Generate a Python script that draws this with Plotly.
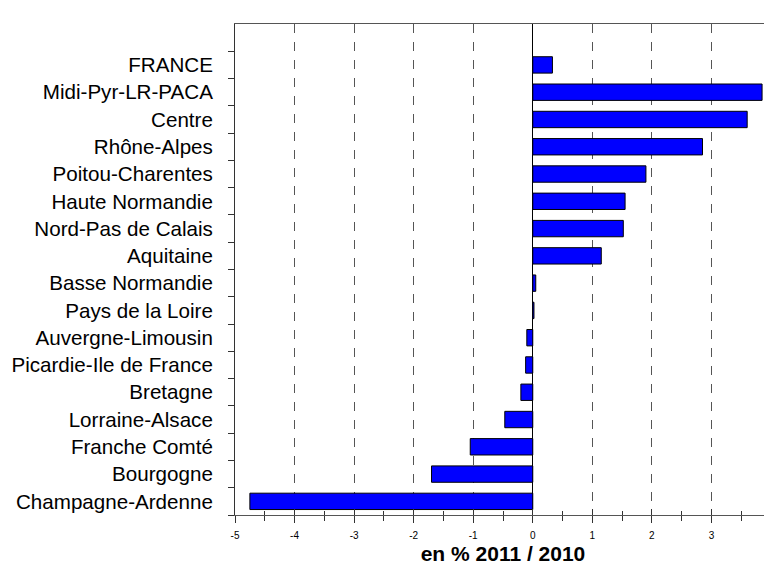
import plotly.graph_objects as go

regions = ["FRANCE", "Midi-Pyr-LR-PACA", "Centre", "Rhône-Alpes", "Poitou-Charentes",
           "Haute Normandie", "Nord-Pas de Calais", "Aquitaine", "Basse Normandie",
           "Pays de la Loire", "Auvergne-Limousin", "Picardie-Ile de France", "Bretagne",
           "Lorraine-Alsace", "Franche Comté", "Bourgogne", "Champagne-Ardenne"]
values = [0.33, 3.85, 3.6, 2.85, 1.9, 1.55, 1.52, 1.15, 0.05, 0.02,
          -0.1, -0.12, -0.2, -0.47, -1.05, -1.7, -4.75]
x_ticks = [-5, -4, -3, -2, -1, 0, 1, 2, 3, 4]
x_title = "en % 2011 / 2010"

cats = regions[::-1]
vals = values[::-1]

fig = go.Figure()
fig.add_trace(go.Bar(
    y=cats, x=vals, orientation="h", width=0.6,
    marker=dict(color="#0000FF", line=dict(color="#000000", width=1)),
    showlegend=False, hoverinfo="skip"))
fig.add_trace(go.Scatter(x=[0], y=[cats[0]], xaxis="x2", mode="markers",
                         marker=dict(opacity=0), showlegend=False, hoverinfo="skip"))

font = "Arial, Liberation Sans, sans-serif"
fig.update_layout(
    width=772, height=564,
    margin=dict(l=227, r=9, t=16, b=57, autoexpand=False),
    paper_bgcolor="white", plot_bgcolor="white",
    font=dict(family=font, color="black"),
    xaxis=dict(
        range=[-5, 4], tickvals=x_ticks, ticktext=[str(v) for v in x_ticks],
        tickfont=dict(size=10, family=font), ticks="outside", ticklen=7, tickwidth=1,
        tickcolor="#333", ticklabelstandoff=4, automargin=False,
        minor=dict(dtick=0.5, ticks="outside", ticklen=5, tickcolor="#333", showgrid=False),
        showgrid=True, gridcolor="#555", griddash="dash", gridwidth=1,
        zeroline=True, zerolinecolor="#000", zerolinewidth=1,
        showline=True, linecolor="#555", linewidth=1, mirror=True,
        title=dict(text="<b>" + x_title + "</b>", font=dict(size=21, family=font), standoff=6),
    ),
    xaxis2=dict(
        range=[-5, 4], tickvals=x_ticks, overlaying="x", side="bottom", anchor="y",
        ticks="inside", ticklen=6, tickcolor="#333", showticklabels=False, automargin=False,
        minor=dict(dtick=0.5, ticks="inside", ticklen=4, tickcolor="#333"),
        showgrid=False, zeroline=False, showline=False,
    ),
    yaxis=dict(
        type="category", categoryorder="array", categoryarray=cats, automargin=False,
        range=[-0.5, 17.5], tickson="boundaries", ticks="outside", ticklen=6,
        tickcolor="#333", tickfont=dict(size=20.6, family=font), ticklabelstandoff=17,
        showgrid=False, showline=True, linecolor="#333", linewidth=1,
    ),
    bargap=0.4,
)

fig.write_html("out.html")
